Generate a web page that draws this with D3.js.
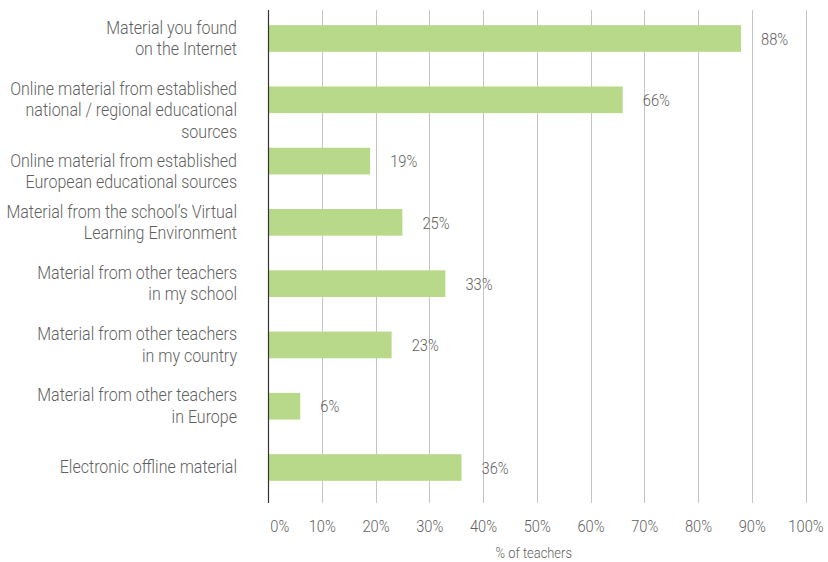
<!DOCTYPE html>
<html>
<head>
<meta charset="utf-8">
<script src="https://cdn.jsdelivr.net/npm/d3@7"></script>
<style>
  body { margin: 0; background: #fff; }
  text { font-family: Roboto, sans-serif; font-weight: 300; fill: #5f5f5f; }
</style>
</head>
<body>
<div id="chart"></div>
<script>
// categories (each string is one label, lines split by "|")
var categories = [
  "Material you found|on the Internet",
  "Online material from established|national / regional educational|sources",
  "Online material from established|European educational sources",
  "Material from the school\u2019s Virtual|Learning Environment",
  "Material from other teachers|in my school",
  "Material from other teachers|in my country",
  "Material from other teachers|in Europe",
  "Electronic offline material"
];
var values = [88, 66, 19, 25, 33, 23, 6, 36];
var ticks = [0, 10, 20, 30, 40, 50, 60, 70, 80, 90, 100];
var axisTitle = "% of teachers";

var W = 828, H = 562;
var margin = {top: 8, right: 22, bottom: 64, left: 268};
var narrow = 0.89; // horizontal squeeze to mimic the condensed face

var svg = d3.select("#chart")
  .append("svg")
    .attr("width", W)
    .attr("height", H)
  .append("g")
    .attr("transform", "translate(" + margin.left + "," + margin.top + ")");

var x = d3.scaleLinear()
  .domain([0, 100])
  .range([0, 537.5]);

var y = d3.scaleBand()
  .domain(d3.range(categories.length))
  .range([0, 490])
  .paddingInner(0.565)
  .paddingOuter(0.28);

var plotBottom = 495;

// gridlines
svg.append("g")
  .selectAll("line")
  .data(ticks.slice(1))
  .enter().append("line")
    .attr("x1", function(d) { return Math.round(x(d)) + 0.5; })
    .attr("x2", function(d) { return Math.round(x(d)) + 0.5; })
    .attr("y1", 2)
    .attr("y2", plotBottom)
    .attr("stroke", "#c4c4c4")
    .attr("stroke-width", 1);

// bars
svg.append("g")
  .selectAll("rect")
  .data(values)
  .enter().append("rect")
    .attr("x", 0)
    .attr("y", function(d, i) { return y(i); })
    .attr("width", function(d) { return x(d); })
    .attr("height", y.bandwidth())
    .attr("fill", "#b9d98a");

// value labels
svg.append("g")
  .selectAll("text")
  .data(values)
  .enter().append("text")
    .attr("transform", function(d, i) {
      return "translate(" + (x(d) + 20) + "," + (y(i) + y.bandwidth() / 2) + ") scale(" + narrow + ",1)";
    })
    .attr("dy", "0.38em")
    .style("font-size", "16.5px")
    .text(function(d) { return d + "%"; });

// category labels: first two lines straddle the bar, a third hangs below,
// and a label is pushed down if it would run into the one above
var fs = 18, lh = 21.5, minGap = 29;
var baselines = [];
var prevLast = -Infinity;
categories.forEach(function(d, i) {
  var lines = d.split("|");
  var first = y(i) + y.bandwidth() / 2 - (Math.min(lines.length, 2) - 1) * lh / 2 + 0.33 * fs;
  first = Math.max(first, prevLast + minGap);
  baselines.push(first);
  prevLast = first + (lines.length - 1) * lh;
});

svg.append("g")
  .attr("transform", "translate(-31,0) scale(" + narrow + ",1)")
  .selectAll("text")
  .data(categories)
  .enter().append("text")
    .attr("x", 0)
    .attr("y", function(d, i) { return baselines[i]; })
    .attr("text-anchor", "end")
    .style("font-size", fs + "px")
    .each(function(d) {
      var t = d3.select(this);
      d.split("|").forEach(function(l, k) {
        t.append("tspan")
          .attr("x", 0)
          .attr("dy", k === 0 ? 0 : lh)
          .text(l);
      });
    });

// y axis line
svg.append("line")
  .attr("x1", 0.5).attr("x2", 0.5)
  .attr("y1", 2).attr("y2", plotBottom)
  .attr("stroke", "#333")
  .attr("stroke-width", 1.2);

// x tick labels
var xa = svg.append("g")
  .attr("transform", "translate(0," + plotBottom + ")")
  .call(d3.axisBottom(x).tickValues(ticks).tickSize(0).tickPadding(17)
    .tickFormat(function(d) { return d + "%"; }));
xa.select(".domain").remove();
xa.selectAll("text")
  .style("font-size", "16.5px")
  .style("font-family", "Roboto, sans-serif")
  .attr("fill", "#5f5f5f")
  .attr("transform", "scale(" + narrow + ",1)")
  .filter(function(d) { return d === 0; })
    .attr("text-anchor", "start")
    .attr("x", 2);

// axis title
svg.append("text")
  .attr("transform", "translate(" + (x(50) - 3) + ",550) scale(" + narrow + ",1)")
  .attr("text-anchor", "middle")
  .style("font-size", "14.5px")
  .text(axisTitle);
</script>
</body>
</html>
